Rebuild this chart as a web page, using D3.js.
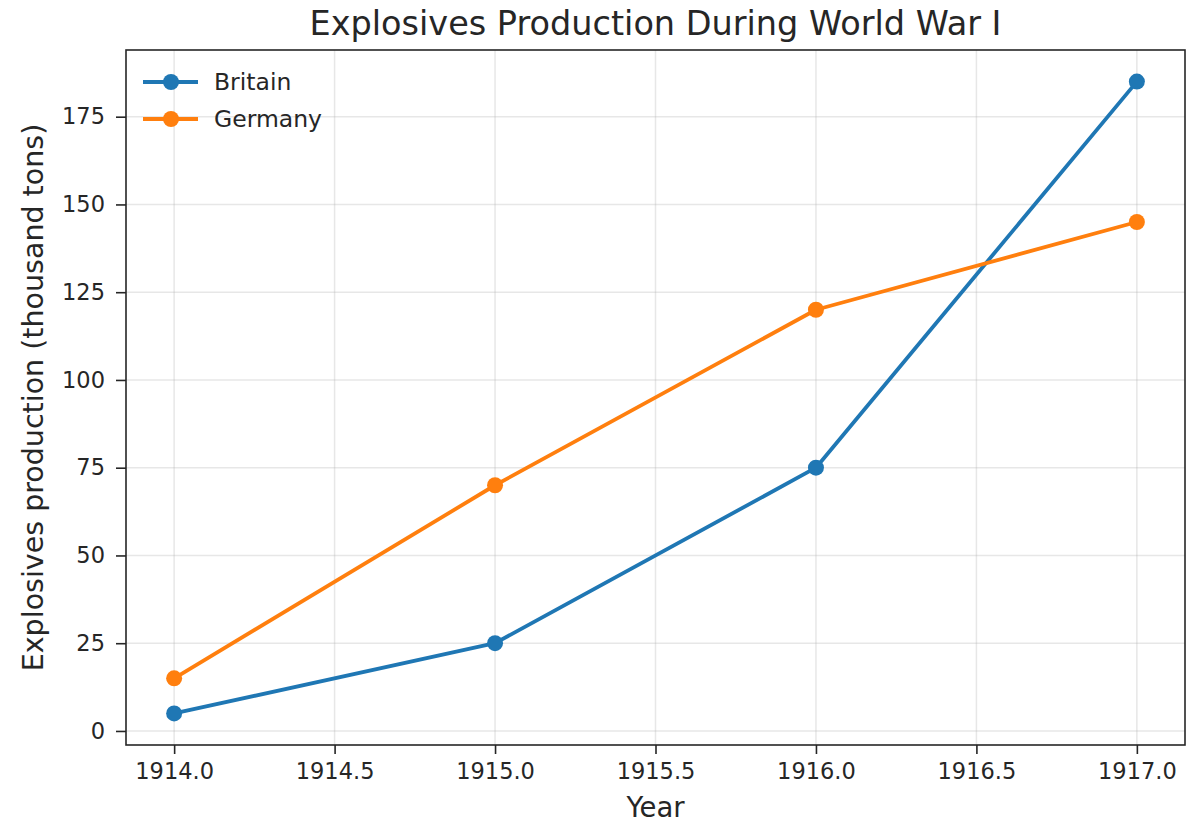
<!DOCTYPE html>
<html><head><meta charset="utf-8">
<script src="https://cdn.jsdelivr.net/npm/d3@7"></script>
<style>body{margin:0;background:#fff}svg{display:block}text{font-family:"DejaVu Sans",sans-serif;fill:#262626}</style>
</head><body><svg id="c" width="1199" height="823"></svg>
<script>
const years = [1914, 1915, 1916, 1917];
const britain = [5, 25, 75, 185];
const germany = [15, 70, 120, 145];
const seriesNames = ["Britain", "Germany"];
const colors = ["#1f77b4", "#ff7f0e"];
const xTicks = [1914.0, 1914.5, 1915.0, 1915.5, 1916.0, 1916.5, 1917.0];
const yTicks = [0, 25, 50, 75, 100, 125, 150, 175];

const svg = d3.select("#c");
const m = {l:126, r:1185, t:50, b:745};
const x = d3.scaleLinear().domain([1914 - 0.15, 1917 + 0.15]).range([m.l, m.r]);
const y = d3.scaleLinear().domain([-4, 194]).range([m.b, m.t]);

// grid
const g = svg.append("g");
g.selectAll("line.vx").data(xTicks).join("line")
  .attr("x1", d=>x(d)).attr("x2", d=>x(d)).attr("y1", m.t).attr("y2", m.b)
  .attr("stroke", "#b0b0b0").attr("stroke-opacity", 0.3).attr("stroke-width", 1.5);
g.selectAll("line.hy").data(yTicks).join("line")
  .attr("y1", d=>y(d)).attr("y2", d=>y(d)).attr("x1", m.l).attr("x2", m.r)
  .attr("stroke", "#b0b0b0").attr("stroke-opacity", 0.3).attr("stroke-width", 1.5);

// axes
const xa = svg.append("g").attr("transform", `translate(0,${m.b})`)
  .call(d3.axisBottom(x).tickValues(xTicks).tickFormat(d3.format(".1f")).tickSize(9).tickPadding(9));
const ya = svg.append("g").attr("transform", `translate(${m.l},0)`)
  .call(d3.axisLeft(y).tickValues(yTicks).tickFormat(d3.format("d")).tickSize(10).tickPadding(11));
[xa, ya].forEach(a => {
  a.select(".domain").remove();
  a.selectAll("line").attr("stroke", "#262626").attr("stroke-width", 1.6);
  a.selectAll("text").style("font-size", "22.5px").style("font-family", "DejaVu Sans").attr("fill", "#262626");
});
svg.append("rect").attr("x", m.l).attr("y", m.t).attr("width", m.r - m.l).attr("height", m.b - m.t)
  .attr("fill", "none").attr("stroke", "#262626").attr("stroke-width", 1.6);

// lines
const data = [britain, germany];
const line = d3.line().x((d,i)=>x(years[i])).y(d=>y(d));
data.forEach((s, k) => {
  svg.append("path").datum(s).attr("d", line).attr("fill", "none")
    .attr("stroke", colors[k]).attr("stroke-width", 3.8).attr("stroke-linejoin", "round");
  svg.selectAll(null).data(s).join("circle")
    .attr("cx", (d,i)=>x(years[i])).attr("cy", d=>y(d)).attr("r", 8).attr("fill", colors[k]);
});

// legend
seriesNames.forEach((n, k) => {
  const yy = 82 + k * 37;
  svg.append("line").attr("x1", 143).attr("x2", 198).attr("y1", yy).attr("y2", yy)
    .attr("stroke", colors[k]).attr("stroke-width", 3.8);
  svg.append("circle").attr("cx", 171).attr("cy", yy).attr("r", 8).attr("fill", colors[k]);
  svg.append("text").attr("x", 214).attr("y", yy).attr("dy", "0.36em").style("font-size", "23.5px").text(n);
});

// titles
svg.append("text").attr("x", (m.l + m.r)/2).attr("y", 35).attr("text-anchor", "middle")
  .style("font-size", "33.5px").text("Explosives Production During World War I");
svg.append("text").attr("x", (m.l + m.r)/2).attr("y", 817).attr("text-anchor", "middle")
  .style("font-size", "27.5px").text("Year");
svg.append("text").attr("transform", `translate(43,${(m.t+m.b)/2}) rotate(-90)`).attr("text-anchor", "middle")
  .style("font-size", "28.5px").text("Explosives production (thousand tons)");
</script></body></html>
